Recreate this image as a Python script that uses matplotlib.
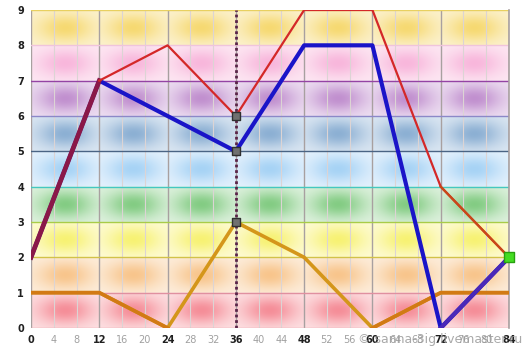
import numpy as np
import matplotlib
matplotlib.use("Agg")
import matplotlib.pyplot as plt
from matplotlib.colors import to_rgb

# ---- data ----
x_vals = [0, 12, 24, 36, 48, 60, 72, 84]
red_series = [2, 7, 8, 6, 9, 9, 4, 2]
blue_series = [2, 7, 5, 8, 8, 0, 2]
blue_x = [0, 12, 36, 48, 60, 72, 84]
orange_series = [1, 1, 0, 3, 2, 0, 1, 1]
marker_x = 36
marker_vals = [6, 5, 3]
end_point = (84, 2)
x_ticks = list(range(0, 85, 4))
y_ticks = list(range(0, 10))

# band colours, bottom to top: (blob colour, base tint)
band_colors = [
    ("#f26a78", "#fde2e4"),
    ("#f6b46a", "#fdeedd"),
    ("#f4ee4a", "#fefbd6"),
    ("#5cbc5c", "#e0f2e0"),
    ("#8cc6f2", "#e6f2fd"),
    ("#6a98c6", "#dde8f3"),
    ("#ae6ec0", "#eee0f2"),
    ("#f6a2d2", "#fde8f3"),
    ("#f4cf4a", "#fcf2d0"),
]
hline_colors = ["#e8a0a8", "#e090a0", "#d2c248", "#a8cc48", "#44c8c0",
                "#4a6484", "#8c88c8", "#9444a4", "#f0c4dc", "#e8d060"]

fig = plt.figure(figsize=(5.3, 3.5), dpi=100)
ax = fig.add_axes([31 / 530, 1 - 328 / 350, 478 / 530, 318 / 350])

# background: tinted bands with soft blobs in each 12-wide column
nx, ny = 840, 900
gx = np.linspace(0, 84, nx)
gy = np.linspace(0, 9, ny)
GX, GY = np.meshgrid(gx, gy)
img = np.ones((ny, nx, 3))
for i, (blob, base) in enumerate(band_colors):
    mask = (GY >= i) & (GY < i + 1)
    b = np.array(to_rgb(blob))
    t = np.array(to_rgb(base))
    cx = (GX % 12) - 6
    cy = GY - (i + 0.5)
    w = np.exp(-(cx ** 2) / (2 * 3.4 ** 2) - (cy ** 2) / (2 * 0.28 ** 2)) * 0.7
    col = t[None, None, :] * (1 - w[..., None]) + b[None, None, :] * w[..., None]
    img[mask] = col[mask]
ax.imshow(img, extent=[0, 84, 0, 9], origin="lower", aspect="auto", zorder=0)

# vertical grid
for xv in x_ticks:
    major = xv % 12 == 0
    ax.axvline(xv, color="#a8a0a0" if major else "#dcd4d4",
               lw=1.0 if major else 0.8, zorder=1)
# horizontal coloured lines
for yv, c in zip(y_ticks + [9], hline_colors):
    ax.axhline(yv, color=c, lw=1.0, zorder=1)

# dotted marker line
ax.axvline(marker_x, color="#5a2448", lw=2.0, ls=(0, (1, 1)), zorder=2)

# orange series
ax.plot(x_vals, orange_series, color="#d4961a", lw=2.6, zorder=3)
ax.plot(x_vals[:3], orange_series[:3], color="#d27a14", lw=2.6, zorder=3)
ax.plot(x_vals[5:], orange_series[5:], color="#d27a14", lw=2.6, zorder=3)

# red series (first leg sits beneath the thick line)
ax.plot(x_vals[:2], red_series[:2], color="#d42828", lw=1.6, zorder=3.5)
ax.plot(x_vals[1:], red_series[1:], color="#d42828", lw=1.6, zorder=5)
ax.plot(x_vals[-2:], red_series[-2:], color="#c84818", lw=1.6, zorder=5)

# blue series
ax.plot(blue_x, blue_series, color="#1a14c8", lw=3.0, zorder=4)
ax.plot(blue_x[:2], blue_series[:2], color="#8a1848", lw=3.4, zorder=4)
ax.plot(blue_x[-2:], blue_series[-2:], color="#4a28b8", lw=3.0, zorder=4)

# markers
ax.scatter([marker_x] * len(marker_vals), marker_vals, marker="s", s=40,
           facecolor="#707070", edgecolor="#303030", lw=1.0, zorder=6)
ax.scatter([end_point[0]], [end_point[1]], marker="s", s=45,
           facecolor="#44dd22", edgecolor="#28a010", lw=1.0, zorder=7,
           clip_on=False)

ax.set_xlim(0, 84)
ax.set_ylim(0, 9)
ax.set_xticks(x_ticks)
ax.set_yticks(y_ticks)
ax.set_yticklabels([str(v) for v in y_ticks], fontsize=7, color="#202020",
                   fontweight="bold")
labels = ax.set_xticklabels([str(v) for v in x_ticks], fontsize=7)
for xv, lab in zip(x_ticks, labels):
    if xv % 12 == 0:
        lab.set_color("#202020")
        lab.set_fontweight("bold")
    else:
        lab.set_color("#a0a0a0")
ax.tick_params(length=0, pad=5)
for side in ["top", "left", "bottom"]:
    ax.spines[side].set_visible(False)
ax.spines["right"].set_color("#a8a0a0")
ax.spines["right"].set_linewidth(1.2)

fig.text(0.985, 0.012, "\u00a9 sanna-3ig.livemaster.ru", ha="right",
         va="bottom", fontsize=9, color="#9a9a9a", alpha=0.85)

fig.savefig("out.png", dpi=100)
